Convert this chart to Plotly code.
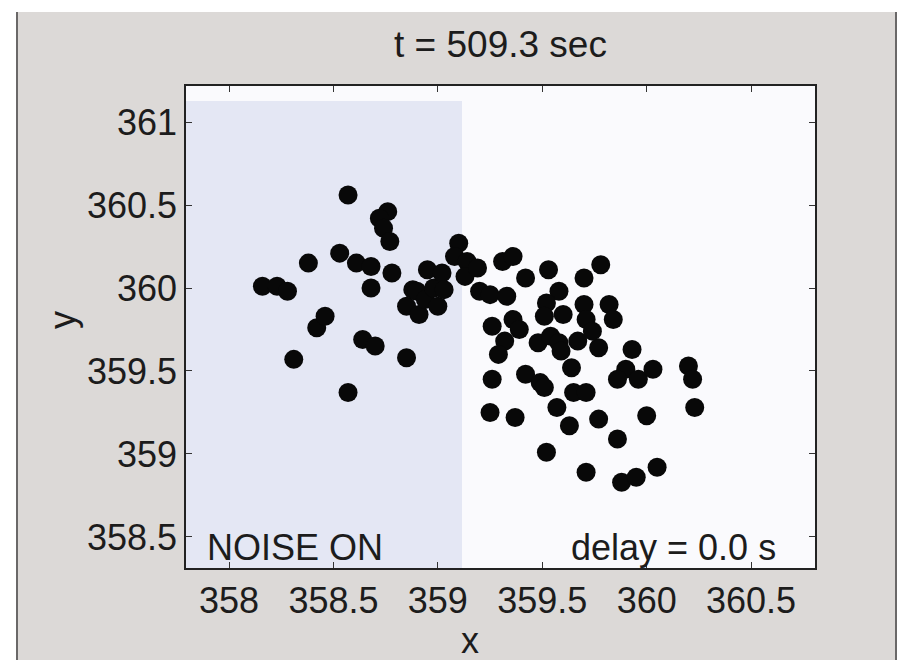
import plotly.graph_objects as go

# ---- data ----
x_vals = [
    358.16, 358.23, 358.28, 358.31, 358.38, 358.42, 358.46, 358.53, 358.57, 358.57,
    358.61, 358.68, 358.68, 358.64, 358.70, 358.76, 358.72, 358.74, 358.77, 358.78,
    358.85, 358.85, 358.88, 358.90, 358.91, 358.94, 358.95, 358.98, 359.00, 359.02,
    359.03, 359.10, 359.08, 359.14, 359.13, 359.19, 359.20, 359.25, 359.31, 359.36,
    359.33, 359.42, 359.53, 359.26, 359.36, 359.39, 359.32, 359.29, 359.48, 359.54,
    359.58, 359.59, 359.67, 359.77, 359.93, 359.26, 359.42, 359.49, 359.51, 359.64,
    359.90, 359.86, 359.96, 360.03, 360.20, 360.22, 359.65, 359.71, 359.57, 359.25,
    359.37, 359.63, 359.77, 360.00, 360.23, 359.86, 359.52, 359.71, 359.88, 359.95,
    360.05, 359.78, 359.70, 359.58, 359.52, 359.70, 359.82, 359.60, 359.51, 359.71,
    359.84, 359.74,
]
y_vals = [
    360.01, 360.01, 359.98, 359.57, 360.15, 359.76, 359.83, 360.21, 360.56, 359.37,
    360.15, 360.13, 360.00, 359.69, 359.65, 360.46, 360.42, 360.36, 360.28, 360.09,
    359.58, 359.89, 359.99, 359.98, 359.84, 359.93, 360.11, 360.00, 359.89, 360.09,
    359.99, 360.27, 360.19, 360.16, 360.07, 360.12, 359.98, 359.96, 360.16, 360.19,
    359.95, 360.06, 360.11, 359.77, 359.81, 359.75, 359.68, 359.60, 359.67, 359.71,
    359.67, 359.62, 359.68, 359.64, 359.63, 359.45, 359.48, 359.43, 359.40, 359.52,
    359.51, 359.45, 359.45, 359.51, 359.53, 359.45, 359.37, 359.37, 359.28, 359.25,
    359.22, 359.17, 359.21, 359.23, 359.28, 359.09, 359.01, 358.89, 358.83, 358.86,
    358.92, 360.14, 360.06, 359.98, 359.91, 359.90, 359.90, 359.84, 359.83, 359.81,
    359.81, 359.74,
]
x_ticks = [358, 358.5, 359, 359.5, 360, 360.5]
x_tick_labels = ["358", "358.5", "359", "359.5", "360", "360.5"]
y_ticks = [358.5, 359, 359.5, 360, 360.5, 361]
y_tick_labels = ["358.5", "359", "359.5", "360", "360.5", "361"]
title_text = "t = 509.3 sec"
left_note = "NOISE ON"
right_note = "delay = 0.0 s"

FONT = "Liberation Sans, Arial, sans-serif"
TXT = "#1c1c1c"
W, H = 904, 660
L, R, T, B = 186, 815, 86, 568


def px(xp):
    return (xp - L) / (R - L)


def py(yp):
    return (B - yp) / (B - T)


fig = go.Figure()
fig.add_trace(go.Scatter(
    x=x_vals, y=y_vals, mode="markers",
    marker=dict(size=19, color="#080808", line=dict(width=0)),
    showlegend=False, hoverinfo="x+y",
))

shapes = [
    # gray figure panel
    dict(type="rect", xref="paper", yref="paper", x0=px(17), x1=px(897), y0=py(12), y1=py(662),
         fillcolor="#dcd9d7", line=dict(width=0), layer="below"),
    dict(type="line", xref="paper", yref="paper", x0=px(17), x1=px(17), y0=py(12), y1=py(662),
         line=dict(color="#6a6868", width=2), layer="below"),
    dict(type="line", xref="paper", yref="paper", x0=px(896), x1=px(896), y0=py(12), y1=py(662),
         line=dict(color="#6a6868", width=2), layer="below"),
    # plot area background
    dict(type="rect", xref="paper", yref="paper", x0=0, x1=1, y0=0, y1=1,
         fillcolor="#fafafd", line=dict(width=0), layer="below"),
    dict(type="rect", xref="paper", yref="paper", x0=0, x1=px(462), y0=0, y1=py(101),
         fillcolor="#e4e7f4", line=dict(width=0), layer="below"),
]

annotations = [
    dict(text=left_note, xref="paper", yref="paper", x=px(205), y=py(547),
         xanchor="left", yanchor="middle", showarrow=False,
         font=dict(family=FONT, size=36, color=TXT)),
    dict(text=right_note, xref="paper", yref="paper", x=px(778), y=py(547),
         xanchor="right", yanchor="middle", showarrow=False,
         font=dict(family=FONT, size=36, color=TXT)),
    dict(text="x", xref="paper", yref="paper", x=px(470), y=py(640),
         xanchor="center", yanchor="middle", showarrow=False,
         font=dict(family=FONT, size=36, color=TXT)),
    dict(text="y", xref="paper", yref="paper", x=px(62), y=py(320), textangle=-90,
         xanchor="center", yanchor="middle", showarrow=False,
         font=dict(family=FONT, size=36, color=TXT)),
]

fig.update_layout(
    width=W, height=H,
    margin=dict(l=L, r=W - R, t=T, b=H - B, pad=0),
    paper_bgcolor="#ffffff",
    plot_bgcolor="rgba(0,0,0,0)",
    title=dict(text=title_text, x=(L + R) / 2 / W, xanchor="center",
               y=1 - 44 / H, yanchor="middle",
               font=dict(family=FONT, size=37, color=TXT)),
    shapes=shapes,
    annotations=annotations,
    font=dict(family=FONT, size=36, color=TXT),
)

fig.update_xaxes(
    range=[357.794, 360.806], tickvals=x_ticks, ticktext=x_tick_labels,
    ticks="inside", ticklen=6, tickcolor="#333", showgrid=False, zeroline=False,
    showline=True, linecolor="#222", linewidth=1.5, mirror="ticks",
    tickfont=dict(family=FONT, size=36, color=TXT),
)
fig.update_yaxes(
    range=[358.313, 361.217], tickvals=y_ticks, ticktext=y_tick_labels,
    ticks="inside", ticklen=6, tickcolor="#333", showgrid=False, zeroline=False,
    showline=True, linecolor="#222", linewidth=1.5, mirror="ticks",
    tickfont=dict(family=FONT, size=36, color=TXT),
)

fig.write_html("out.html")
